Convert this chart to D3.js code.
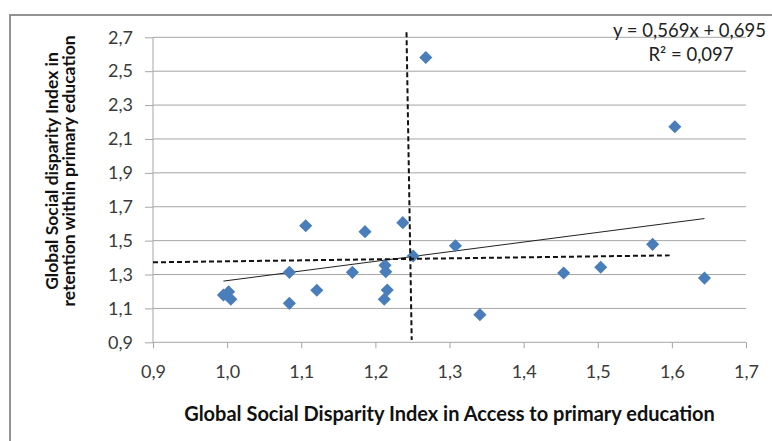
<!DOCTYPE html>
<html><head><meta charset="utf-8">
<script src="https://cdn.jsdelivr.net/npm/d3@7"></script>
<style>
html,body{margin:0;padding:0;background:#fff;}
svg{display:block;font-family:Lato,"Open Sans",sans-serif;}
</style></head>
<body><svg id="c" width="772" height="441"></svg>
<script>
// data
const accessIndex = [0.995,1.002,1.005,1.084,1.084,1.106,1.121,1.169,1.186,1.213,1.214,1.216,1.212,1.237,1.251,1.268,1.308,1.341,1.454,1.504,1.574,1.604,1.644];
const retentionIndex = [1.179,1.198,1.154,1.313,1.130,1.588,1.207,1.313,1.553,1.354,1.317,1.209,1.154,1.606,1.409,2.581,1.470,1.063,1.309,1.343,1.478,2.172,1.279];
const xTicks = [0.9,1.0,1.1,1.2,1.3,1.4,1.5,1.6,1.7];
const yTicks = [0.9,1.1,1.3,1.5,1.7,1.9,2.1,2.3,2.5,2.7];
const trendSlope = 0.569, trendIntercept = 0.695;
const trendLabel = ["y = 0,569x + 0,695", "R\u00B2 = 0,097"];
const vRefLine = [[1.242,2.73],[1.249,0.914]];
const hRefLine = [[0.9,1.372],[1.597,1.413]];
const xTitle = "Global Social Disparity Index in Access to primary education";
const yTitle = ["Global Social disparity Index in", "retention within primary education"];

const svg = d3.select("#c");
const L=153, R=746, T=37.3, B=342.3;
const x = d3.scaleLinear().domain([0.9,1.7]).range([L,R]);
const y = d3.scaleLinear().domain([0.9,2.7]).range([B,T]);
const fmt = d => d3.format(".1f")(d).replace(".",",");

// chart border
svg.append("rect").attr("x",10).attr("y",15).attr("width",900).attr("height",600)
  .attr("fill","none").attr("stroke","#888").attr("stroke-width",1.8);

// gridlines
svg.append("g").selectAll("line").data(yTicks.slice(1)).join("line")
  .attr("x1",L).attr("x2",R).attr("y1",d=>y(d)).attr("y2",d=>y(d))
  .attr("stroke","#a6a6a6").attr("stroke-width",1);

// y axis
const gy = svg.append("g").attr("transform",`translate(${L},0)`)
  .call(d3.axisLeft(y).tickValues(yTicks).tickFormat(fmt).tickSize(8).tickPadding(12));
gy.select(".domain").attr("stroke","#a6a6a6").attr("d",`M0,${T}V${B}`);
gy.selectAll(".tick line").attr("stroke","#a6a6a6");
gy.selectAll(".tick text").attr("fill","#3a3a3a").style("font-size","18px").style("font-family","Lato");

// x axis
const gx = svg.append("g").attr("transform",`translate(0,${B})`)
  .call(d3.axisBottom(x).tickValues(xTicks).tickFormat(fmt).tickSize(6).tickPadding(17));
gx.select(".domain").attr("stroke","#a6a6a6").attr("d",`M${L},0H${R}`);
gx.selectAll(".tick line").attr("stroke","#a6a6a6");
gx.selectAll(".tick text").attr("fill","#3a3a3a").style("font-size","18px").style("font-family","Lato");

// trendline
const tx = d3.extent(accessIndex);
svg.append("line")
  .attr("x1",x(tx[0])).attr("y1",y(trendSlope*tx[0]+trendIntercept))
  .attr("x2",x(tx[1])).attr("y2",y(trendSlope*tx[1]+trendIntercept))
  .attr("stroke","#222").attr("stroke-width",1);

// points
const pts = accessIndex.map((v,i)=>({x:v,y:retentionIndex[i]}));
svg.append("g").selectAll("path").data(pts).join("path")
  .attr("d", d3.symbol().type(d3.symbolSquare).size(86))
  .attr("transform", d=>`translate(${x(d.x)},${y(d.y)}) rotate(45)`)
  .attr("fill","#4a7ebb");

// reference dashed lines
const lineGen = d3.line().x(d=>x(d[0])).y(d=>y(d[1]));
[vRefLine,hRefLine].forEach(l=>{
  svg.append("path").attr("d",lineGen(l)).attr("fill","none")
    .attr("stroke","#111").attr("stroke-width",2).attr("stroke-dasharray","5,3");
});

// trend label
svg.append("text").attr("x",766).attr("y",37).attr("text-anchor","end")
  .style("font-size","18.5px").attr("fill","#222").text(trendLabel[0]);
svg.append("text").attr("x",691).attr("y",61).attr("text-anchor","middle")
  .style("font-size","18.5px").attr("fill","#222").text(trendLabel[1]);

// axis titles
svg.append("text").attr("x",(L+R)/2).attr("y",421).attr("text-anchor","middle")
  .style("font-size","20px").style("font-weight","bold").attr("fill","#111").text(xTitle);
const yt = svg.append("text").attr("transform","translate(58,171) rotate(-90)")
  .attr("text-anchor","middle").style("font-size","17.5px").style("font-weight","bold").attr("fill","#111");
yt.append("tspan").attr("x",0).attr("dy",0).text(yTitle[0]);
yt.append("tspan").attr("x",0).attr("dy",17).text(yTitle[1]);
</script></body></html>
